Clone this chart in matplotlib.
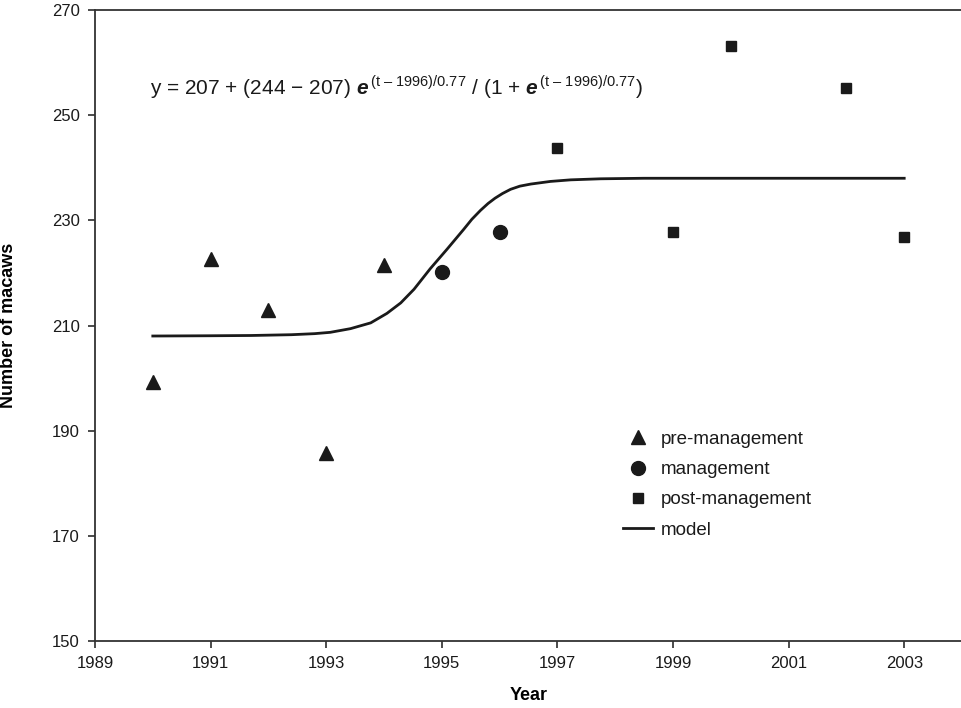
import matplotlib
matplotlib.use('Agg')
import matplotlib.pyplot as plt

plt.rcParams['font.family'] = ['Liberation Sans', 'DejaVu Sans']
plt.rcParams['mathtext.fontset'] = 'custom'
plt.rcParams['mathtext.rm'] = 'Liberation Sans'
plt.rcParams['mathtext.bfit'] = 'Liberation Sans:italic:bold'

# data
pre_years = [1990, 1991, 1992, 1993, 1994]
pre_vals = [199.3, 222.7, 213.0, 185.8, 221.6]
mgmt_years = [1995, 1996]
mgmt_vals = [220.2, 227.8]
post_years = [1997, 1999, 2000, 2002, 2003]
post_vals = [243.7, 227.7, 263.2, 255.1, 226.8]

# model curve, points
model_years = [1990, 1991, 1991.7, 1992.4, 1992.8, 1993.07, 1993.42, 1993.77, 1994.05,
               1994.29, 1994.52, 1994.8, 1995.09, 1995.38, 1995.52, 1995.67, 1995.8,
               1995.92, 1996.05, 1996.19, 1996.35, 1996.54, 1996.88, 1997.23, 1997.75,
               1998.5, 1999.5, 2001, 2003]
model_vals = [208.0, 208.05, 208.1, 208.25, 208.45, 208.7, 209.4, 210.5, 212.3,
              214.3, 216.9, 220.8, 224.5, 228.3, 230.2, 231.9, 233.2,
              234.2, 235.1, 235.9, 236.5, 236.9, 237.4, 237.7, 237.9,
              238.0, 238.0, 238.0, 238.0]

x_ticks = [1989, 1991, 1993, 1995, 1997, 1999, 2001, 2003]
y_ticks = [150, 170, 190, 210, 230, 250, 270]

col = '#1a1a1a'

fig = plt.figure(figsize=(9.62, 7.08), dpi=100)
ax = fig.add_axes([95/962, 1 - 641/708, 1 - 95/962, 631/708])

ax.plot(pre_years, pre_vals, '^', color=col, markersize=10, linestyle='none', label='pre-management')
ax.plot(mgmt_years, mgmt_vals, 'o', color=col, markersize=10, linestyle='none', label='management')
ax.plot(post_years, post_vals, 's', color=col, markersize=6.5, linestyle='none', label='post-management')
ax.plot(model_years, model_vals, '-', color=col, linewidth=2, label='model',
        solid_joinstyle='round')

ax.set_xlim(1989, 2004)
ax.set_ylim(150, 270)
ax.set_xticks(x_ticks)
ax.set_yticks(y_ticks)
ax.tick_params(direction='out', length=5, width=1.1, labelsize=12, colors=col, pad=6)
for s in ['left', 'bottom', 'top']:
    ax.spines[s].set_linewidth(1.3)
    ax.spines[s].set_color('#333333')
ax.spines['right'].set_visible(False)

ax.set_xlabel('Year', fontsize=13, fontweight='bold', labelpad=11)
ax.yaxis.set_label_coords(-78/867, 0.5)
ax.set_ylabel('Number of macaws', fontsize=13, fontweight='bold')

eq = (r'$\text{y = 207 + (244 − 207) }\boldsymbol{e}^{\,\text{(t – 1996)/0.77}}'
      r'\text{ / (1 + }\boldsymbol{e}^{\,\text{(t – 1996)/0.77}}\text{)}$')
fig.text(150/962, 1 - 87/708, eq, fontsize=15, va='center', ha='left', color=col)

leg = ax.legend(loc='upper left', bbox_to_anchor=(606/962, 1 - 414/708),
                bbox_transform=fig.transFigure, frameon=False, fontsize=13.5,
                handlelength=1.6, handletextpad=0.4, labelspacing=0.7)
for t in leg.get_texts():
    t.set_color(col)

fig.savefig('out.png', dpi=100)
